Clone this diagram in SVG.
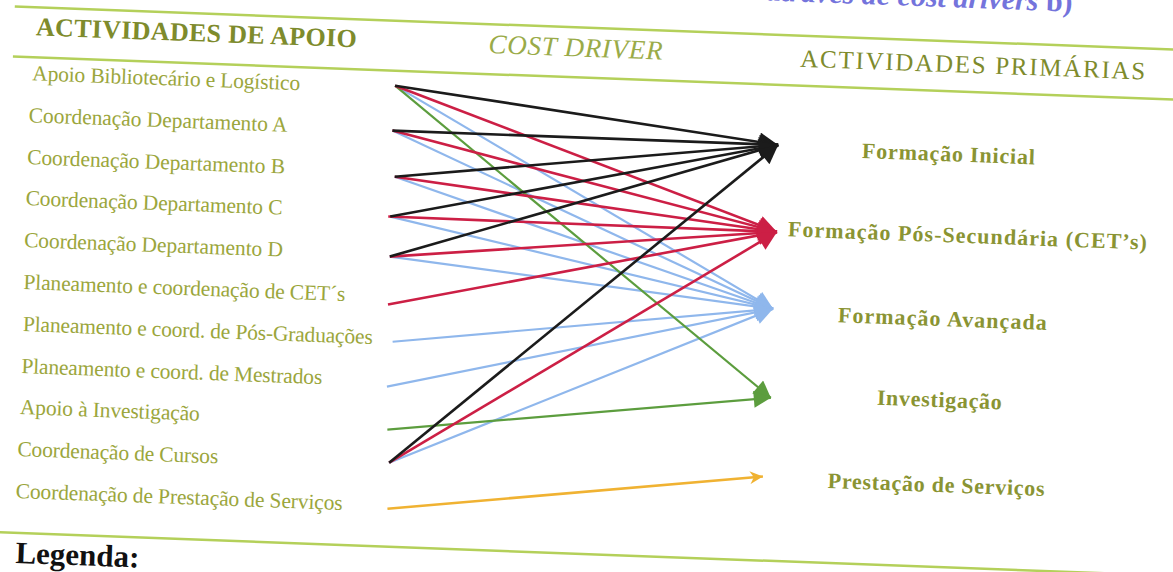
<svg xmlns="http://www.w3.org/2000/svg" width="1173" height="572" viewBox="0 0 1173 572">
<style>
.rule{stroke:#b4d05a;stroke-width:2.5;fill:none}
.hdr{font-family:"Liberation Serif",serif;fill:#7e8b2c}
.src{font-family:"Liberation Serif",serif;font-size:21.5px;fill:#9ba63c}
.dst{font-family:"Liberation Serif",serif;font-size:22px;font-weight:bold;fill:#8a9433}
.k{stroke:#1b1b1b;stroke-width:2.6;fill:none}
.r{stroke:#cc1f45;stroke-width:2.6;fill:none}
.b{stroke:#8fb7ec;stroke-width:2.2;fill:none}
.g{stroke:#5c9d3e;stroke-width:2.2;fill:none}
.o{stroke:#f0b232;stroke-width:2.6;fill:none}
</style>
<defs>
<marker id="mk" viewBox="0 0 10 10" refX="10" refY="5" markerWidth="21" markerHeight="19" markerUnits="userSpaceOnUse" orient="auto"><path d="M0,0 L10,5 L0,10 z" fill="#1b1b1b"/></marker>
<marker id="mr" viewBox="0 0 10 10" refX="10" refY="5" markerWidth="21" markerHeight="19" markerUnits="userSpaceOnUse" orient="auto"><path d="M0,0 L10,5 L0,10 z" fill="#cc1f45"/></marker>
<marker id="mb" viewBox="0 0 10 10" refX="10" refY="5" markerWidth="20" markerHeight="18" markerUnits="userSpaceOnUse" orient="auto"><path d="M0,0 L10,5 L0,10 z" fill="#8fb7ec"/></marker>
<marker id="mg" viewBox="0 0 10 10" refX="10" refY="5" markerWidth="19" markerHeight="17" markerUnits="userSpaceOnUse" orient="auto"><path d="M0,0 L10,5 L0,10 z" fill="#5c9d3e"/></marker>
<marker id="mo" viewBox="0 0 10 10" refX="10" refY="5" markerWidth="15" markerHeight="13" markerUnits="userSpaceOnUse" orient="auto"><path d="M0,0 L10,5 L0,10 L3,5 z" fill="#f0b232"/></marker>
</defs>
<rect x="0" y="0" width="1173" height="572" fill="#ffffff"/>
<g transform="rotate(2.12)">
  <text x="1072" y="-28" text-anchor="end" font-family="Liberation Serif, serif" font-size="30" font-weight="bold" font-style="italic" fill="#7474dc">através de cost drivers <tspan font-style="normal">b)</tspan></text>
  <line class="rule" x1="15" y1="6" x2="1185" y2="6"/>
  <line class="rule" x1="15" y1="56" x2="1185" y2="56"/>
  <line class="rule" x1="-10" y1="532" x2="1185" y2="532"/>
  <g id="headers">
    <text class="hdr" x="37" y="34" font-size="26" font-weight="bold" textLength="321">ACTIVIDADES DE APOIO</text>
    <text class="hdr" x="490" y="35" font-size="27" font-style="italic" textLength="174" style="fill:#9aab48">COST DRIVER</text>
    <text class="hdr" x="802" y="37" font-size="25" textLength="345">ACTIVIDADES PRIMÁRIAS</text>
  </g>
  <g id="connectors">
    <g class="b" marker-end="url(#mb)">
      <line x1="398" y1="71" x2="784" y2="280"/>
      <line x1="397" y1="116" x2="784" y2="280"/>
      <line x1="401" y1="162" x2="784" y2="280"/>
      <line x1="398" y1="202" x2="784" y2="280"/>
      <line x1="399" y1="242" x2="784" y2="280"/>
      <line x1="405" y1="327" x2="784" y2="280"/>
      <line x1="401" y1="372" x2="784" y2="280"/>
      <line x1="406" y1="448" x2="784" y2="280"/>
    </g>
    <g class="g" marker-end="url(#mg)">
      <line x1="398" y1="71" x2="785" y2="369"/>
      <line x1="403" y1="415" x2="785" y2="369"/>
    </g>
    <g class="r" marker-end="url(#mr)">
      <line x1="398" y1="71" x2="785" y2="203"/>
      <line x1="397" y1="116" x2="785" y2="203"/>
      <line x1="401" y1="162" x2="785" y2="203"/>
      <line x1="396" y1="202" x2="785" y2="203"/>
      <line x1="399" y1="242" x2="785" y2="203"/>
      <line x1="399" y1="290" x2="785" y2="203"/>
      <line x1="406" y1="448" x2="785" y2="203"/>
    </g>
    <g class="k" marker-end="url(#mk)">
      <line x1="398" y1="71" x2="783" y2="116"/>
      <line x1="397" y1="116" x2="783" y2="116"/>
      <line x1="401" y1="162" x2="783" y2="116"/>
      <line x1="398" y1="202" x2="783" y2="116"/>
      <line x1="399" y1="242" x2="783" y2="116"/>
      <line x1="406" y1="448" x2="783" y2="116"/>
    </g>
    <line class="o" x1="406" y1="494" x2="780" y2="448" marker-end="url(#mo)"/>
  </g>
  <g id="src-apoio-bibliotecario"><text class="src" x="35" y="79" textLength="268">Apoio Bibliotecário e Logístico</text></g>
  <g id="src-dep-a"><text class="src" x="33" y="121" textLength="259">Coordenação Departamento A</text></g>
  <g id="src-dep-b"><text class="src" x="33" y="163" textLength="258">Coordenação Departamento B</text></g>
  <g id="src-dep-c"><text class="src" x="33" y="204" textLength="257">Coordenação Departamento C</text></g>
  <g id="src-dep-d"><text class="src" x="33" y="246" textLength="259">Coordenação Departamento D</text></g>
  <g id="src-cets"><text class="src" x="34" y="288" textLength="322">Planeamento e coordenação de CET´s</text></g>
  <g id="src-pos-grad"><text class="src" x="35" y="330" textLength="350">Planeamento e coord. de Pós-Graduações</text></g>
  <g id="src-mestrados"><text class="src" x="35" y="372" textLength="301">Planeamento e coord. de Mestrados</text></g>
  <g id="src-apoio-inv"><text class="src" x="35" y="413" textLength="180">Apoio à Investigação</text></g>
  <g id="src-cursos"><text class="src" x="34" y="455" textLength="201">Coordenação de Cursos</text></g>
  <g id="src-prestacao"><text class="src" x="34" y="497" textLength="327">Coordenação de Prestação de Serviços</text></g>
  <g id="dst-formacao-inicial"><text class="dst" x="867" y="126" textLength="173">Formação Inicial</text></g>
  <g id="dst-pos-secundaria"><text class="dst" x="796" y="207" textLength="359">Formação Pós-Secundária (CET’s)</text></g>
  <g id="dst-formacao-avancada"><text class="dst" x="849" y="291" textLength="209">Formação Avançada</text></g>
  <g id="dst-investigacao"><text class="dst" x="891" y="372" textLength="125">Investigação</text></g>
  <g id="dst-prestacao"><text class="dst" x="845" y="457" textLength="217">Prestação de Serviços</text></g>
  <text x="36" y="562" font-family="Liberation Serif, serif" font-size="31" font-weight="bold" fill="#111111">Legenda:</text>
</g>
</svg>
